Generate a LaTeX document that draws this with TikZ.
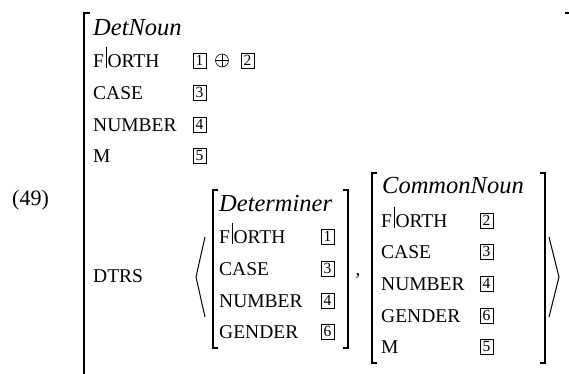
\documentclass[tikz,border=0pt]{standalone}
\usepackage{fontspec}
\setmainfont{Liberation Serif}
\newcommand{\forth}{F\kern1.5pt\rule[-1pt]{0.5pt}{21pt}\kern1.5pt ORTH}
\begin{document}
\begin{tikzpicture}[x=1pt, y=-1pt,
        feat/.style={anchor=base west, inner sep=0pt, font=\fontsize{19.5}{22}\selectfont},
        typ/.style={anchor=base west, inner sep=0pt, font=\fontsize{24.5}{27}\selectfont\itshape},
        tag/.style={draw, line width=0.6pt, inner sep=0pt, minimum width=13pt, minimum height=15pt, font=\fontsize{15.5}{16}\selectfont},
        brk/.style={line width=1.5pt},
        ang/.style={line width=1pt}]
        \useasboundingbox (0,0) rectangle (569,373);
        \clip (0,0) rectangle (569,373);

        % Example number
        \node[feat, font=\fontsize{22}{24}\selectfont] (exnum) at (12,205) {(49)};

        % Outer matrix
        \draw[brk] (90,13) -- (84,13) -- (84,380);
        \draw[brk] (565,13) -- (571,13) -- (571,380);
        \node[typ] (detnoun) at (93,35) {DetNoun};
        \foreach \f/\y/\n in {\forth/67/orth, CASE/99/case, NUMBER/131/number, M/162/m, DTRS/282/dtrs} {
            \node[feat] (out-\n) at (93,\y) {\f};
        }
        \node[tag] (out-t1) at (199.5,60.5) {1};
        \node[draw, circle, line width=0.6pt, minimum size=13pt, inner sep=0pt] (out-plus) at (222,60.5) {};
        \draw[line width=0.6pt] (out-plus.north) -- (out-plus.south) (out-plus.west) -- (out-plus.east);
        \node[tag] (out-t2) at (247.5,60.5) {2};
        \foreach \v/\y in {3/92.5, 4/124.5, 5/155.5} {
            \node[tag] (out-t\v) at (199.5,\y) {\v};
        }

        % List brackets
        \draw[ang] (205,237) -- (196,277) -- (205,317);
        \draw[ang] (549,237) -- (559,277) -- (549,317);
        \node[feat, anchor=base] (comma) at (358,275) {,};

        % Determiner
        \draw[brk] (218,190) -- (213,190) -- (213,348) -- (218,348);
        \draw[brk] (343,190) -- (348,190) -- (348,348) -- (343,348);
        \node[typ] (det) at (219,211) {Determiner};
        \foreach \f/\v/\y/\n in {\forth/1/243/orth, CASE/3/275/case, NUMBER/4/307/number, GENDER/6/338/gender} {
            \node[feat] (det-\n) at (219,\y) {\f};
            \node[tag] (det-t\v) at (327.5,\y-6.5) {\v};
        }

        % CommonNoun
        \draw[brk] (377,173) -- (372,173) -- (372,363) -- (377,363);
        \draw[brk] (540,173) -- (545,173) -- (545,363) -- (540,363);
        \node[typ] (cn) at (382,193) {CommonNoun};
        \foreach \f/\v/\y/\n in {\forth/2/227/orth, CASE/3/258/case, NUMBER/4/290/number, GENDER/6/322/gender, M/5/353/m} {
            \node[feat] (cn-\n) at (381,\y) {\f};
            \node[tag] (cn-t\v) at (486.5,\y-6.5) {\v};
        }
\end{tikzpicture}
\end{document}
